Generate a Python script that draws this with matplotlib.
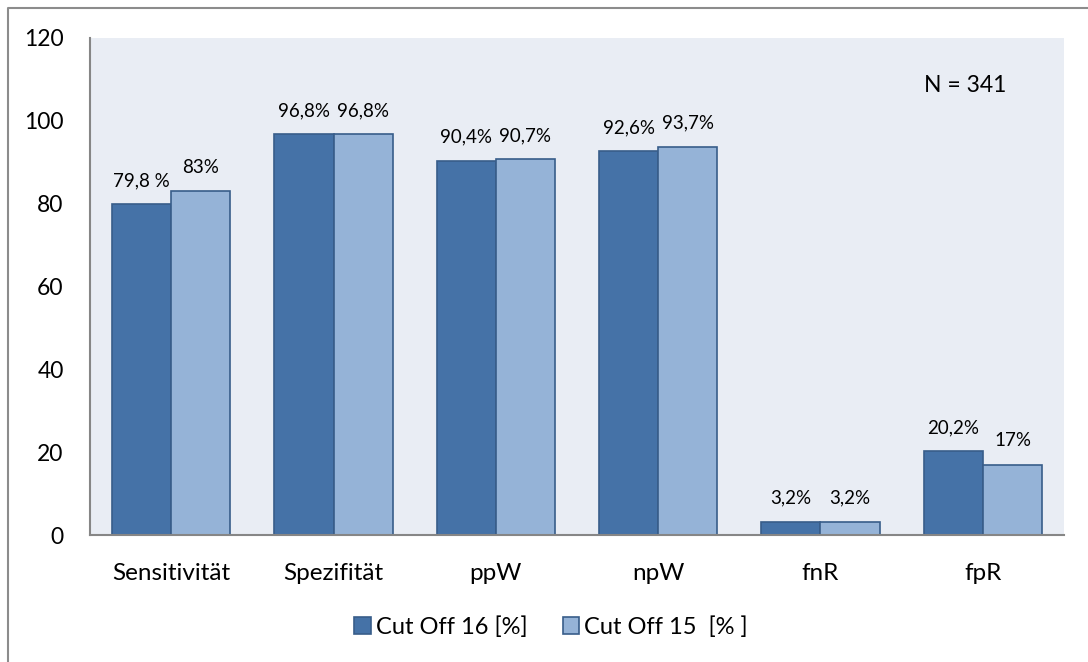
import numpy as np
import matplotlib.pyplot as plt
from matplotlib.lines import Line2D

categories = ["Sensitivität", "Spezifität", "ppW", "npW", "fnR", "fpR"]
cut16 = [79.8, 96.8, 90.4, 92.6, 3.2, 20.2]
cut15 = [83, 96.8, 90.7, 93.7, 3.2, 17]
labels16 = ["79,8 %", "96,8%", "90,4%", "92,6%", "3,2%", "20,2%"]
labels15 = ["83%", "96,8%", "90,7%", "93,7%", "3,2%", "17%"]
yticks = [0, 20, 40, 60, 80, 100, 120]

plt.rcParams["font.family"] = ["Lato", "DejaVu Sans"]

W, H = 1088, 662
fig = plt.figure(figsize=(W / 100, H / 100), dpi=100)
ax = fig.add_axes([90 / W, (H - 535) / H, 974 / W, (535 - 38) / H])
ax.set_facecolor("#E9EDF4")

x = np.arange(len(categories))
w = 0.365
dark = "#4572A7"
light = "#95B3D7"
edge = "#385D8A"

b1 = ax.bar(x - w / 2, cut16, w, color=dark, edgecolor=edge, linewidth=1.2,
            label="Cut Off 16 [%]")
b2 = ax.bar(x + w / 2, cut15, w, color=light, edgecolor=edge, linewidth=1.2,
            label="Cut Off 15  [% ]")

for bars, labs in ((b1, labels16), (b2, labels15)):
    for rect, lab in zip(bars, labs):
        ax.annotate(lab, (rect.get_x() + rect.get_width() / 2, rect.get_height()),
                    xytext=(0, 17), textcoords="offset points",
                    ha="center", va="center", fontsize=13.5)

ax.set_xlim(-0.5, len(categories) - 0.5)
ax.set_ylim(0, 120)
ax.set_yticks(yticks)
ax.set_xticks(x)
ax.set_xticklabels(categories)
ax.tick_params(axis="y", length=0, pad=19, labelsize=16.5)
ax.tick_params(axis="x", length=0, pad=20, labelsize=17.5)

for s in ("top", "right"):
    ax.spines[s].set_visible(False)
for s in ("left", "bottom"):
    ax.spines[s].set_color("#868686")
    ax.spines[s].set_linewidth(1.5)

ax.text(0.899, 0.905, "N = 341", transform=ax.transAxes, ha="center", va="center",
        fontsize=16.5)

fig.legend(handles=[b1, b2], loc="center", bbox_to_anchor=(551 / W, 1 - 627 / H),
           ncol=2, frameon=False, fontsize=17, handlelength=0.7, handleheight=0.7,
           handletextpad=0.2, columnspacing=1.5)

# outer chart frame
bx, by = 8 / W, 1 - 8 / H
fig.add_artist(Line2D([bx, bx, 1], [0, by, by], transform=fig.transFigure,
                      color="#8C8C8C", linewidth=1.5))

fig.savefig("out.png", dpi=100)
plt.close()
